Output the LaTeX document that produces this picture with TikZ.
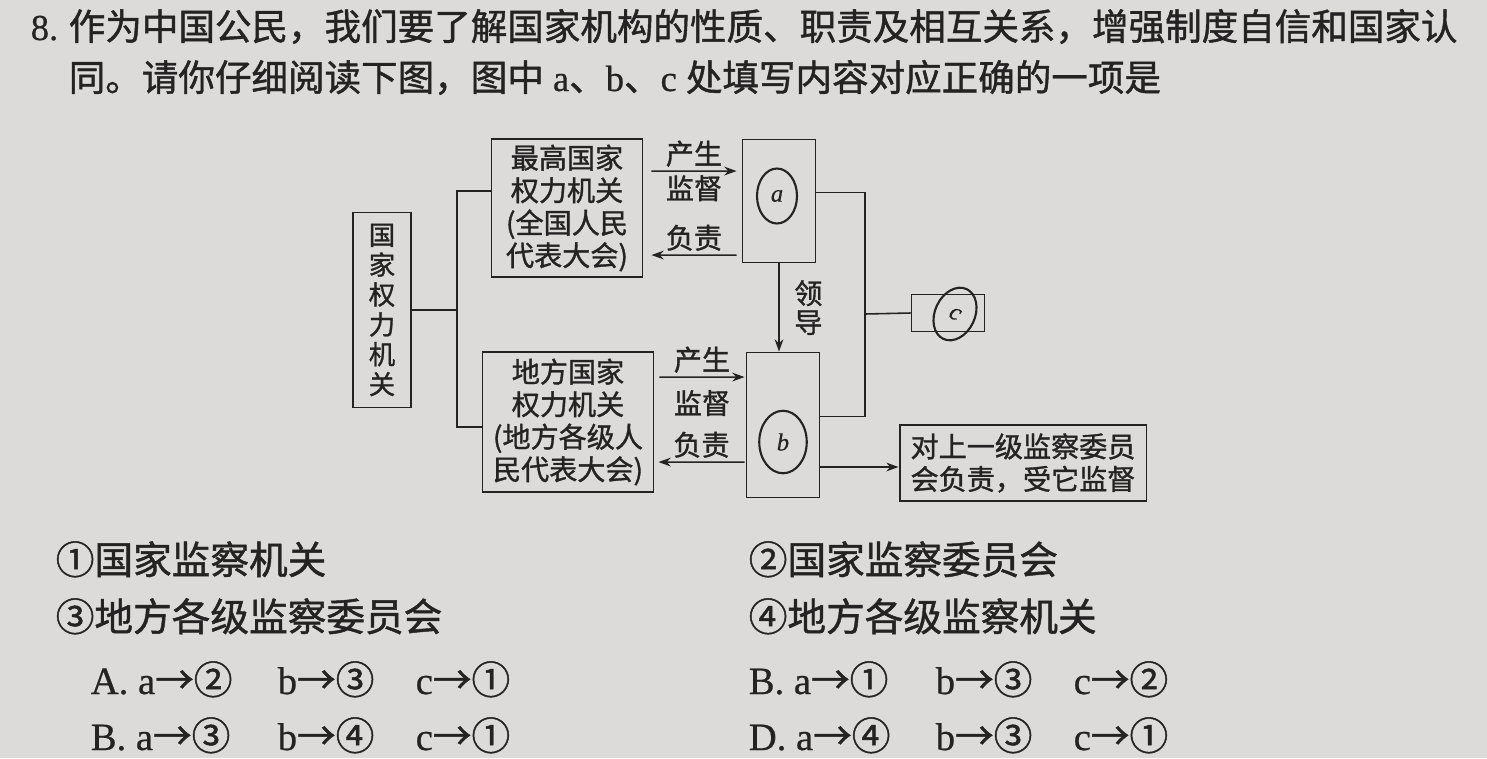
\documentclass[tikz,border=0pt]{standalone}
\usepackage{fontspec}
\setmainfont{Liberation Serif}[FakeBold=0.6]
\newfontfamily\cjk{Noto Sans CJK SC}[FakeBold=1.2]
\usepackage{tikz}
\usetikzlibrary{positioning, shapes, arrows.meta, calc}
\definecolor{paper}{RGB}{221,218,218}
\definecolor{ink}{RGB}{36,34,34}
\newcommand{\pick}[4]{\makebox[3.74cm][l]{#1\ a{\cjk →#2}}\makebox[2.76cm][l]{b{\cjk →#3}}c{\cjk →#4}}

\begin{document}
\begin{tikzpicture}[x=0.02cm, y=-0.02cm, ink, line width=0.9pt,
  box/.style={draw, line width=1.1pt, inner sep=1pt, align=center, font=\cjk\fontsize{16}{18.5}\selectfont},
  lbl/.style={font=\cjk\fontsize{16}{16.5}\selectfont, inner sep=2pt},
  txt/.style={anchor=base west, inner sep=0pt, font=\fontsize{20.8}{24}\selectfont},
  opt/.style={anchor=base west, inner sep=0pt, font=\fontsize{22}{26}\selectfont},
  hand/.style={draw, ellipse, line width=1.2pt, inner sep=0pt, font=\itshape\fontsize{14}{14}\selectfont},
  arr/.style={-{Stealth[length=7pt,width=5pt]}}]
  \useasboundingbox (0,0) rectangle (1487,758);
  \fill[paper] (0,0) rectangle (1487,758);

  % question
  \node[txt] (num) at (30,40) {8.};
  \node[txt, font=\cjk\fontsize{20.8}{24}\selectfont] (q1) at (68,40) {作为中国公民，我们要了解国家机构的性质、职责及相互关系，增强制度自信和国家认};
  \node[txt] (q2) at (68,91) {{\cjk 同。请你仔细阅读下图，图中} a{\cjk 、}b{\cjk 、}c {\cjk 处填写内容对应正确的一项是}};

  % diagram
  \node[box, minimum width=1.16cm, minimum height=3.9cm, font=\cjk\fontsize{15}{17}\selectfont] (org) at (382,310) {国\\家\\权\\力\\机\\关};
  \node[box, minimum width=3.02cm, minimum height=2.76cm] (top) at (567,208) {最高国家\\权力机关\\(全国人民\\代表大会)};
  \node[box, minimum width=3.42cm, minimum height=2.8cm] (local) at (568,422) {地方国家\\权力机关\\(地方各级人\\民代表大会)};
  \node[box, minimum width=1.46cm, minimum height=2.46cm] (sa) at (779,201) {};
  \node[box, minimum width=1.46cm, minimum height=2.9cm] (sb) at (783,425) {};
  \node[box, minimum width=1.46cm, minimum height=0.74cm] (sc) at (948,313) {};
  \node[box, minimum width=4.94cm, minimum height=1.52cm, align=left] (duty) at (1023,463) {对上一级监察委员\\会负责，受它监督};

  % handwritten marks
  \node[hand, minimum width=0.8cm, minimum height=1.1cm] (ha) at (777,196) {a};
  \node[hand, minimum width=0.95cm, minimum height=1.25cm] (hb) at (783,442) {b};
  \node[hand, minimum width=0.8cm, minimum height=1.1cm, rotate=-25] (hc) at (955,314) {c};

  \coordinate (fork) at (457,310);
  \coordinate (join) at (865,314);
  \draw (org.east) -- (fork);
  \draw ($(top.north west)+(0,53)$) -| (fork) |- ($(local.north west)+(0,76)$);
  \draw ($(sa.north east)+(0,54)$) -| (join) |- ($(sb.north east)+(0,65)$);
  \draw (join) -- (sc.west);

  \draw[arr] ($(top.north east)+(8,33)$) -- ($(sa.north west)+(-5,32.5)$)
    node[midway, above, lbl] {产生} node[midway, below, lbl] {监督};
  \draw[arr] ($(sa.north west)+(-5,116.5)$) -- ($(top.north east)+(8,117)$)
    node[midway, above, lbl] {负责};
  \draw[arr] ($(local.north east)+(5,26)$) -- ($(sb.north west)+(-1,25.5)$)
    node[midway, above, lbl] {产生} node[midway, below=5pt, lbl] {监督};
  \draw[arr] ($(sb.north west)+(-1,110.5)$) -- ($(local.north east)+(4,111)$)
    node[midway, above, lbl] {负责};
  \draw[arr] (sa.south) -- (sb.north -| sa.south)
    node[midway, right=0.22cm, lbl, align=center] {领\\导};
  \draw[arr] ($(sb.east |- duty.west)+(0,4)$) -- ($(duty.west)+(0,4)$);

  % options
  \node[opt, font=\cjk\fontsize{22}{26}\selectfont] (o1) at (55,574) {①国家监察机关};
  \node[opt, font=\cjk\fontsize{22}{26}\selectfont] (o2) at (748,574) {②国家监察委员会};
  \node[opt, font=\cjk\fontsize{22}{26}\selectfont] (o3) at (55,631) {③地方各级监察委员会};
  \node[opt, font=\cjk\fontsize{22}{26}\selectfont] (o4) at (748,631) {④地方各级监察机关};
  \node[opt] (ansA) at (90,694) {\pick{A.}{②}{③}{①}};
  \node[opt] (ansB) at (748,694) {\pick{B.}{①}{③}{②}};
  \node[opt] (ansC) at (90,750) {\pick{B.}{③}{④}{①}};
  \node[opt] (ansD) at (748,750) {\pick{D.}{④}{③}{①}};
\end{tikzpicture}
\end{document}
